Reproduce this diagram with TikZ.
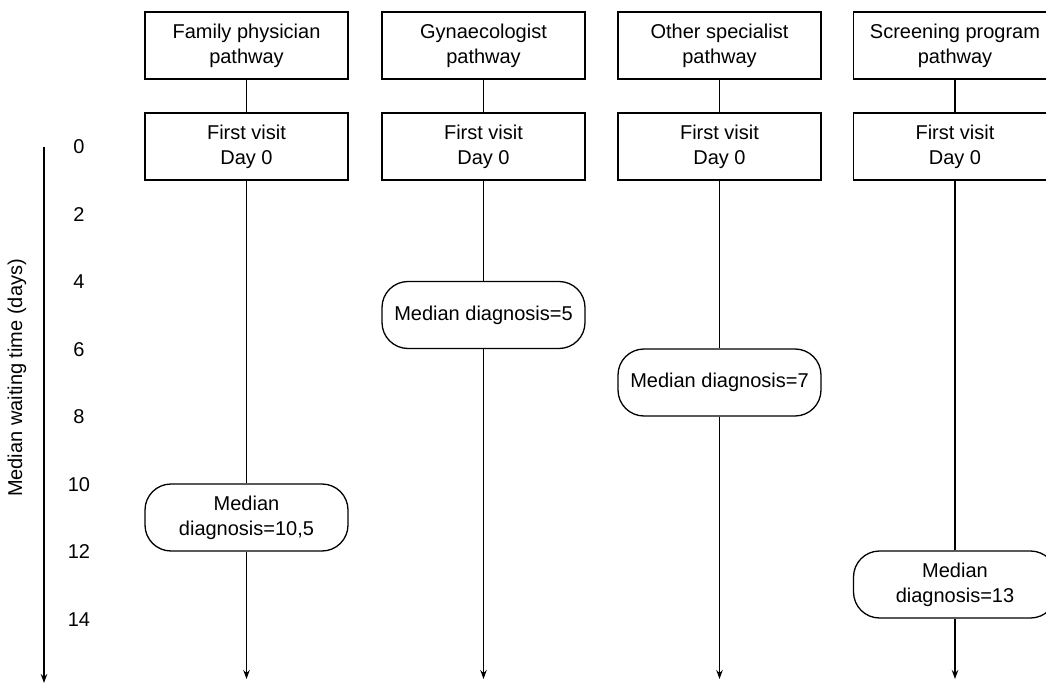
\documentclass[tikz,border=0pt]{standalone}
\usepackage{fontspec}
\setmainfont{Liberation Sans}
\usetikzlibrary{arrows.meta}
\begin{document}
\begin{tikzpicture}[x=1pt,y=-1pt,
  line width=1.3pt,
  every node/.style={font=\fontsize{20}{25}\selectfont, align=center, inner sep=0pt},
  pathbox/.style={draw, fill=white, minimum width=203pt, minimum height=67pt},
  medbox/.style={draw, fill=white, rounded corners=26pt, minimum width=203pt, minimum height=67pt},
  flow/.style={-{Stealth[length=9pt,width=6.5pt]}}]
\clip (0,0) rectangle (1046,684);
\fill[white] (0,0) rectangle (1046,684);

% time axis
\coordinate (axtop) at (44,147);
\coordinate (axbot) at (44,683);
\draw[flow] (axtop) -- (axbot);
\node[rotate=90] (axlabel) at (17,378) {Median waiting time (days)};
\foreach \d/\t in {0/0,2/2,4/4,6/6,8/8,10/10,12/12,14/14}
  \node (tick\d) at (79,{147+33.75*\d}) {\t};

% pathway columns
\foreach \i/\x/\name in {1/246.5/{Family physician\\pathway},
                          2/483.5/{Gynaecologist\\pathway},
                          3/719.5/{Other specialist\\pathway},
                          4/955/{Screening program\\pathway}} {
  \node[pathbox] (head\i) at (\x,45.5) {\name};
  \node[pathbox] (visit\i) at (\x,146.5) {First visit\\Day 0};
  \coordinate (end\i) at (\x,679);
  \draw (head\i) -- (visit\i);
}

% median diagnosis markers
\node[medbox] (med1) at (246.5,517.5) {Median\\diagnosis=10,5};
\node[medbox] (med2) at (483.5,315) {Median diagnosis=5};
\node[medbox] (med3) at (719.5,382.5) {Median diagnosis=7};
\node[medbox] (med4) at (955,584.5) {Median\\diagnosis=13};

\foreach \i in {1,2,3,4} {
  \draw (visit\i) -- (med\i);
  \draw[flow] (med\i) -- (end\i);
}
\end{tikzpicture}
\end{document}
